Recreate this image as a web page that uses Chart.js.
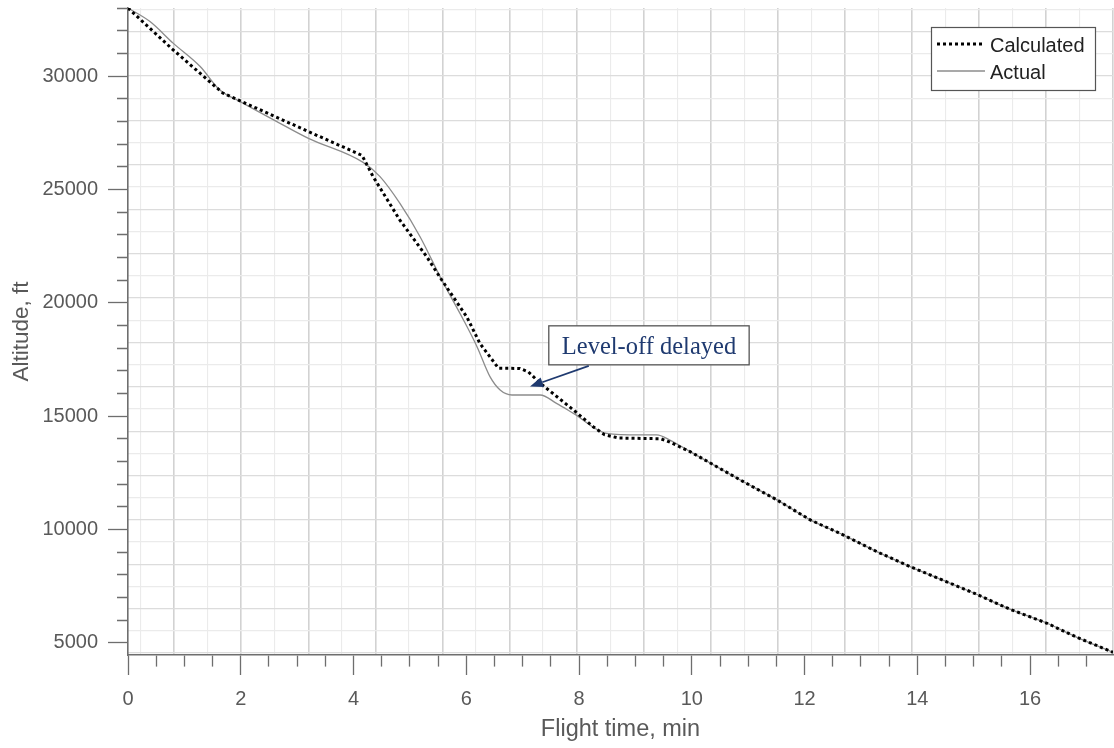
<!DOCTYPE html>
<html><head><meta charset="utf-8">
<script src="https://cdn.jsdelivr.net/npm/chart.js@4.4.1/dist/chart.umd.min.js"></script>
<style>html,body{margin:0;padding:0;background:#fff;}canvas{display:block;}</style>
</head><body>
<canvas id="c" width="1114" height="748"></canvas>
<script>
// ---- data ----
const seriesNames = ['Calculated', 'Actual'];
const calcTime = [0, 0.78, 1.68, 3.19, 4.15, 4.35, 4.82, 5.30, 5.565, 6.01, 6.24, 6.57, 6.95, 7.1, 7.31, 7.90, 8.25, 8.45, 8.7, 9.45, 9.6, 9.97, 10.86, 11.51, 12.10, 12.69, 13.28, 13.87, 14.52, 15.05, 15.64, 16.30, 16.83, 17.47];
const calcAlt  = [33000, 31200, 29250, 27560, 26500, 25550, 23650, 22020, 21000, 19370, 18210, 17110, 17100, 16950, 16450, 15270, 14530, 14180, 14030, 14000, 13860, 13430, 12180, 11300, 10420, 9750, 9020, 8360, 7690, 7140, 6480, 5860, 5240, 4580];
const actualTime = [0, 0.39, 0.80, 1.28, 1.63, 1.99, 2.64, 3.20, 4.17, 4.47, 4.82, 5.18, 5.565, 5.95, 6.19, 6.42, 6.60, 6.81, 7.31, 7.60, 7.90, 8.49, 9.08, 9.38, 9.61, 9.97, 10.86, 11.51, 12.10, 12.69, 13.28, 13.87, 14.52, 15.05, 15.64, 16.30, 16.83, 17.47];
const actualAlt  = [33000, 32400, 31450, 30420, 29380, 28870, 27990, 27250, 26190, 25560, 24390, 22910, 21000, 19240, 18060, 16740, 16150, 15930, 15930, 15560, 15120, 14240, 14170, 14170, 13940, 13430, 12180, 11300, 10420, 9750, 9020, 8360, 7690, 7140, 6480, 5860, 5240, 4580];
const xTickLabels = ['0', '2', '4', '6', '8', '10', '12', '14', '16'];
const yTickLabels = ['5000', '10000', '15000', '20000', '25000', '30000'];
const xMinorStep = 0.5, yMinorStep = 1000;
const xTitle = 'Flight time, min';
const yTitle = 'Altitude, ft';
const noteText = 'Level-off delayed';
const noteAnchor = {x: 9.24, y: 18120};
const noteTip = {x: 7.13, y: 16300};
const xRange = [0, 17.47];
const yRange = [4460, 33000];
// background paper grid (not aligned with the axis ticks in the reference)
const gridXStart = 0.2253, gridXStep = 0.5946;
const gridYStart = 32934, gridYStep = 979;

const toPts = (xs, ys) => xs.map((x, i) => ({x, y: ys[i]}));
const AXIS = '#6e6e6e', TXT = '#595959';
const FONT = '"Liberation Sans", Arial, sans-serif';

function stepTicks(range, step) {
  const out = [];
  for (let k = Math.ceil(range[0] / step - 1e-9); k * step <= range[1] + 1e-9; k++) {
    out.push({value: Math.round(k * step * 1000) / 1000});
  }
  return out;
}
function zeroFit(dim) {
  return s => { s[dim] = 0; s.paddingLeft = s.paddingRight = s.paddingTop = s.paddingBottom = 0; };
}

const overlay = {
  id: 'overlay',
  afterDraw(chart) {
    const ctx = chart.ctx, ca = chart.chartArea;
    // legend
    const bw = 164, bh = 63, bx = ca.right - 18 - bw, by = ca.top + 19;
    ctx.save();
    ctx.fillStyle = '#fff';
    ctx.fillRect(bx, by, bw, bh);
    ctx.strokeStyle = '#555'; ctx.lineWidth = 1.2;
    ctx.strokeRect(bx + 0.5, by + 0.5, bw, bh);
    ctx.font = '20px ' + FONT; ctx.textBaseline = 'middle'; ctx.fillStyle = '#222';
    chart.data.datasets.forEach((ds, i) => {
      const y = by + 18 + i * 27;
      ctx.save();
      ctx.strokeStyle = ds.borderColor; ctx.lineWidth = ds.borderWidth;
      ctx.setLineDash(ds.borderDash || []);
      ctx.beginPath(); ctx.moveTo(bx + 6, y - 1); ctx.lineTo(bx + 54, y - 1); ctx.stroke();
      ctx.restore();
      ctx.fillText(ds.label, bx + 59, y + 1);
    });
    // annotation
    const xs = chart.scales.x, ys = chart.scales.y;
    const cx = xs.getPixelForValue(noteAnchor.x), cy = ys.getPixelForValue(noteAnchor.y);
    ctx.font = '24.5px "Liberation Serif", "Times New Roman", serif';
    const tw = ctx.measureText(noteText).width;
    const w = tw + 26, h = 39, l = cx - w / 2, t = cy - h / 2;
    ctx.fillStyle = '#fff'; ctx.fillRect(l, t, w, h);
    ctx.strokeStyle = '#555'; ctx.lineWidth = 1.3; ctx.strokeRect(l, t, w, h);
    ctx.fillStyle = '#1f3a70'; ctx.textAlign = 'center'; ctx.textBaseline = 'middle';
    ctx.fillText(noteText, cx, cy + 2);
    const ax = l + 40, ay = t + h + 1;
    const tx = xs.getPixelForValue(noteTip.x), ty = ys.getPixelForValue(noteTip.y);
    const ang = Math.atan2(ty - ay, tx - ax), hl = 13, hw = 5;
    const bxp = tx - hl * Math.cos(ang), byp = ty - hl * Math.sin(ang);
    ctx.strokeStyle = '#1f3a70'; ctx.lineWidth = 1.8;
    ctx.beginPath(); ctx.moveTo(ax, ay); ctx.lineTo(bxp, byp); ctx.stroke();
    ctx.beginPath();
    ctx.moveTo(tx, ty);
    ctx.lineTo(bxp + hw * Math.sin(ang), byp - hw * Math.cos(ang));
    ctx.lineTo(bxp - hw * Math.sin(ang), byp + hw * Math.cos(ang));
    ctx.closePath(); ctx.fillStyle = '#1f3a70'; ctx.fill();
    ctx.restore();
  }
};

new Chart(document.getElementById('c'), {
  type: 'line',
  data: {
    datasets: [
      { label: seriesNames[0], data: toPts(calcTime, calcAlt), xAxisID: 'x', yAxisID: 'y',
        borderColor: '#000', borderWidth: 3, borderDash: [3, 3], pointRadius: 0, tension: 0, fill: false },
      { label: seriesNames[1], data: toPts(actualTime, actualAlt), xAxisID: 'x', yAxisID: 'y',
        borderColor: '#8c8c8c', borderWidth: 1.3, pointRadius: 0, cubicInterpolationMode: 'monotone', fill: false }
    ]
  },
  options: {
    responsive: false, animation: false, devicePixelRatio: 1,
    layout: { padding: { top: 8, right: 1, left: 0, bottom: 0 } },
    plugins: { legend: { display: false }, tooltip: { enabled: false } },
    scales: {
      x: {
        type: 'linear', position: 'bottom', min: xRange[0], max: xRange[1],
        afterBuildTicks: s => { s.ticks = stepTicks(xRange, xMinorStep); },
        ticks: { autoSkip: false, maxRotation: 0,
          padding: 12, color: TXT, font: { family: FONT, size: 20 },
          callback: v => (xTickLabels.includes(String(v)) ? String(v) : '') },
        grid: { drawOnChartArea: false, drawTicks: true, tickLength: 20, tickColor: AXIS, tickWidth: 1.3,
          tickBorderDash: c => (c.tick && xTickLabels.includes(String(c.tick.value)) ? [] : [11, 40]) },
        border: { display: true, color: AXIS, width: 1.6 },
        title: { display: true, text: xTitle, color: TXT, font: { family: FONT, size: 23.5 }, padding: { top: 0, bottom: 4 } },
        afterFit: s => { s.height = 93; s.paddingLeft = 0; s.paddingRight = 0; }
      },
      y: {
        type: 'linear', position: 'left', min: yRange[0], max: yRange[1],
        afterBuildTicks: s => { s.ticks = stepTicks(yRange, yMinorStep); },
        ticks: { autoSkip: false,
          padding: 10, color: TXT, font: { family: FONT, size: 20 },
          callback: v => (yTickLabels.includes(String(v)) ? String(v) : '') },
        grid: { drawOnChartArea: false, drawTicks: true, tickLength: 20, tickColor: AXIS, tickWidth: 1.3,
          tickBorderDash: c => (c.tick && yTickLabels.includes(String(c.tick.value)) ? [] : [0, 9, 11, 40]) },
        border: { display: true, color: AXIS, width: 1.6 },
        title: { display: true, text: yTitle, color: TXT, font: { family: FONT, size: 22.5 }, padding: { top: 8, bottom: 0 } },
        afterFit: s => { s.width = 128; s.paddingTop = 0; s.paddingBottom = 0; }
      },
      gridX: {
        axis: 'x', type: 'linear', position: 'bottom', min: xRange[0], max: xRange[1],
        afterBuildTicks: s => {
          const t = [];
          for (let k = 0; ; k++) { const v = gridXStart + k * gridXStep; if (v > xRange[1] + 1e-6) break; t.push({value: v}); }
          s.ticks = t;
        },
        ticks: { display: false }, border: { display: false },
        grid: { drawTicks: false,
          color: c => (c.index % 2 ? '#d2d2d2' : '#ebebeb'),
          lineWidth: c => (c.index % 2 ? 1.6 : 1.1) },
        afterFit: zeroFit('height')
      },
      gridY: {
        axis: 'y', type: 'linear', position: 'left', min: yRange[0], max: yRange[1],
        afterBuildTicks: s => {
          const t = [];
          for (let k = 0; ; k++) { const v = gridYStart - k * gridYStep; if (v < yRange[0]) break; t.unshift({value: v}); }
          s.ticks = t;
        },
        ticks: { display: false }, border: { display: false },
        grid: { drawTicks: false,
          color: c => (Math.round((gridYStart - c.tick.value) / gridYStep) % 2 ? '#dcdcdc' : '#ebebeb'),
          lineWidth: 1.3 },
        afterFit: zeroFit('width')
      }
    }
  },
  plugins: [overlay]
});
</script>
</body></html>
